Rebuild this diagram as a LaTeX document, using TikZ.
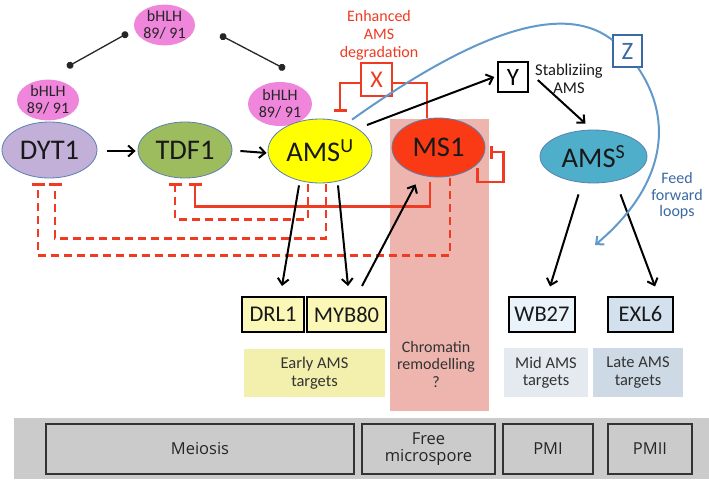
\documentclass[tikz,border=0pt]{standalone}
\usepackage{fontspec}
\setmainfont{Carlito}
\newfontfamily\osans{Open Sans}
\usetikzlibrary{arrows.meta,shapes.geometric,calc}
\definecolor{ellborder}{HTML}{5A80B0}
\definecolor{bhlhpink}{HTML}{EF86DC}
\definecolor{dytc}{HTML}{C3B0D8}
\definecolor{tdfc}{HTML}{9DBC5E}
\definecolor{amsuc}{HTML}{FFFF00}
\definecolor{msc}{HTML}{F93A14}
\definecolor{amssc}{HTML}{4FAFCB}
\definecolor{redl}{HTML}{EE3B22}
\definecolor{bluel}{HTML}{6299CB}
\definecolor{zblue}{HTML}{3A6AA3}
\definecolor{pinkc}{HTML}{EDB5AE}
\definecolor{earlyc}{HTML}{F3F0AE}
\definecolor{midc}{HTML}{E4EAEF}
\definecolor{latec}{HTML}{CDD9E5}
\definecolor{ybox}{HTML}{FBF7B6}
\definecolor{wbc}{HTML}{EAF3FA}
\definecolor{exlc}{HTML}{D3E0EE}
\definecolor{bandc}{HTML}{CBCBCB}
\begin{document}
\begin{tikzpicture}[x=1pt,y=-1pt,
  ell/.style={ellipse, draw=ellborder, line width=0.8pt, inner sep=0pt, text=black!90, font=\fontsize{28.5}{30}\selectfont},
  bhlh/.style={ellipse, fill=bhlhpink, inner sep=0pt, align=center, text=black!85, font=\fontsize{16}{17}\selectfont},
  arr/.style={-{Straight Barb[length=6pt,width=11pt]}, line width=2pt, black},
  inh/.style={-{Bar[width=13pt]}, line width=2.5pt, redl},
  dsh/.style={dash pattern=on 8pt off 5pt},
  tbox/.style={draw=black, line width=2pt, inner sep=0pt, minimum height=35pt, text=black!90, font=\fontsize{22.5}{24}\selectfont},
  lbl/.style={align=center, text=black!80, font=\fontsize{16}{17.5}\selectfont},
  tgt/.style={inner sep=0pt, align=center, text=black!80, font=\fontsize{16.5}{17.5}\selectfont},
  stage/.style={draw=black!80, line width=1.3pt, fill=bandc, inner sep=0pt, minimum height=50pt, align=center, text=black!85, font=\osans\fontsize{16.5}{16.5}\selectfont},
  dotline/.style={{Circle[length=7pt]}-{Circle[length=7pt]}, line width=1.3pt, black!85}
]
\useasboundingbox (0,0) rectangle (709,479);

% background panels
\node[fill=bandc, inner sep=0pt, minimum width=695pt, minimum height=61pt] (band) at (361.5,448.5) {};
\node[fill=pinkc, inner sep=0pt, minimum width=99pt, minimum height=292pt] (pinkr) at (439.5,265) {};

% stage boxes
\node[stage, minimum width=308pt] (meio) at (200,449) {Meiosis};
\node[stage, minimum width=133pt] (free) at (428.5,449) {Free\\microspore};
\node[stage, minimum width=90pt] (pmi) at (548,449) {PMI};
\node[stage, minimum width=84pt] (pmii) at (650,449) {PMII};

% target labels
\node[tgt, fill=earlyc, minimum width=141pt, minimum height=48pt] (early) at (314.5,373) {Early AMS\\targets};
\node[lbl] (chrom) at (436,364) {Chromatin\\remodelling\\?};
\node[tgt, fill=midc, minimum width=84pt, minimum height=49pt] (mid) at (546,372.5) {Mid AMS\\targets};
\node[tgt, fill=latec, minimum width=90pt, minimum height=49pt] (late) at (638,372.5) {Late AMS\\targets};

% bHLH partners
\node[bhlh, minimum width=61pt, minimum height=40pt] (bt) at (164.5,25) {bHLH\\89/ 91};
\node[bhlh, minimum width=62pt, minimum height=40pt] (bl) at (48,100) {bHLH\\89/ 91};
\node[bhlh, minimum width=64pt, minimum height=44pt] (br) at (280,104) {bHLH\\89/ 91};
\coordinate (d1) at (128,33);
\coordinate (d2) at (67,67);
\coordinate (d3) at (220,35);
\coordinate (d4) at (285,69);
\draw[dotline] (d1) -- (d2);
\draw[dotline] (d3) -- (d4);

% main factors
\node[ell, fill=dytc, minimum width=95pt, minimum height=56pt] (DYT1) at (49.5,150) {DYT1};
\node[ell, fill=tdfc, minimum width=94pt, minimum height=56pt] (TDF1) at (185,150) {TDF1};
\node[ell, fill=amsuc, minimum width=104pt, minimum height=64pt] (AMSU) at (320,151) {AMS\textsuperscript{U}};
\node[ell, fill=msc, minimum width=93pt, minimum height=59pt] (MS1) at (438.5,147.5) {MS1};
\node[ell, fill=amssc, minimum width=107pt, minimum height=53pt] (AMSS) at (593.5,156.5) {AMS\textsuperscript{S}};

% target genes
\node[tbox, fill=ybox, minimum width=62pt] (DRL1) at (273,314.5) {DRL1};
\node[tbox, fill=ybox, minimum width=79pt] (MYB80) at (346.5,314.5) {MYB80};
\node[tbox, fill=wbc, minimum width=66pt] (WB27) at (542,314) {WB27};
\node[tbox, fill=exlc, minimum width=65pt] (EXL6) at (640.5,314) {EXL6};

% X, Y, Z
\node[draw=redl, line width=1.5pt, fill=white, minimum width=31pt, minimum height=33pt, inner sep=0pt, text=redl, font=\fontsize{24}{26}\selectfont] (X) at (376.5,79.5) {X};
\node[draw=black, line width=1.5pt, fill=white, minimum width=30pt, minimum height=30pt, inner sep=0pt, font=\fontsize{25}{27}\selectfont] (Y) at (513,77) {Y};
\node[draw=zblue, line width=1.5pt, fill=white, minimum width=29pt, minimum height=32pt, inner sep=0pt, text=zblue, font=\fontsize{25}{27}\selectfont] (Z) at (627.5,51) {Z};

% text labels
\node[lbl, text=redl, font=\fontsize{16}{18}\selectfont] (enh) at (379,35) {Enhanced\\AMS\\degradation};
\node[lbl, text=black!90, font=\fontsize{16.5}{18}\selectfont] (stab) at (569,79) {Stabliziing\\AMS};
\node[lbl, text=zblue, font=\fontsize{16}{16.5}\selectfont] (feed) at (677,196) {Feed\\forward\\loops};

% red inhibition connectors
\draw[inh] ([yshift=-3.5pt]X.west) -| ([xshift=20pt,yshift=7pt]AMSU.north);
\draw[line width=2.5pt, redl] ([yshift=-3.5pt]X.east) -| ([xshift=-11.5pt]MS1.north);
\draw[inh] ([xshift=-8.5pt,yshift=-5pt]MS1.south) -- ++(0,24) -| ([xshift=10pt,yshift=-5pt]TDF1.south);
\draw[inh, dsh] ([xshift=11.5pt,yshift=-1pt]MS1.south) -- ++(0,77) -| ([xshift=-11.5pt,yshift=-5pt]DYT1.south);
\draw[inh, dsh] ([xshift=6pt,yshift=-1pt]AMSU.south) -- ++(0,54) -| ([xshift=5.5pt,yshift=-5pt]DYT1.south);
\draw[inh, dsh] ([xshift=-12pt,yshift=-1pt]AMSU.south) -- ++(0,35) -| ([xshift=-10pt,yshift=-5pt]TDF1.south);
\draw[inh] ([xshift=-8pt,yshift=-20.5pt]MS1.east) -- ++(0,14) -- ++(26,0) -- ++(0,-30) -- ([xshift=5pt,yshift=-4.5pt]MS1.east);

% black arrows
\draw[arr] ([xshift=10pt,yshift=-1pt]DYT1.east) -- ([xshift=-2pt,yshift=-1pt]TDF1.west);
\draw[arr] ([xshift=8pt,yshift=-1pt]TDF1.east) -- ([xshift=-1pt,yshift=-2pt]AMSU.west);
\draw[arr] ([xshift=-21pt,yshift=-2pt]AMSU.south) -- ([xshift=9pt,yshift=10pt]DRL1.north);
\draw[arr] ([xshift=18pt,yshift=-2pt]AMSU.south) -- ([xshift=1.5pt,yshift=10pt]MYB80.north);
\draw[arr] ([xshift=15.5pt,yshift=10pt]MYB80.north) -- ([xshift=-23pt,yshift=-7pt]MS1.south);
\draw[arr] ([xshift=47pt,yshift=26pt]AMSU.center) -- ([xshift=-3pt]Y.west);
\draw[arr] ([xshift=9pt,yshift=-3pt]Y.east) -- ([xshift=-8pt,yshift=6pt]AMSS.north);
\draw[arr] ([xshift=-15pt,yshift=-11pt]AMSS.south) -- ([xshift=8pt,yshift=9pt]WB27.north);
\draw[arr] ([xshift=27pt,yshift=-11pt]AMSS.south) -- ([xshift=14.5pt,yshift=9pt]EXL6.north);

% blue feed-forward curve
\coordinate (ffend) at (595,245);
\draw[line width=2pt, bluel] ([xshift=32pt,yshift=-1pt]AMSU.north) .. controls (450,50) and (555,-5) .. ([yshift=11pt]Z.west);
\draw[line width=2pt, bluel, -{Straight Barb[length=6pt,width=11pt]}] ([xshift=10.5pt]Z.south) .. controls (680,130) and (655,195) .. (ffend);
\end{tikzpicture}
\end{document}
